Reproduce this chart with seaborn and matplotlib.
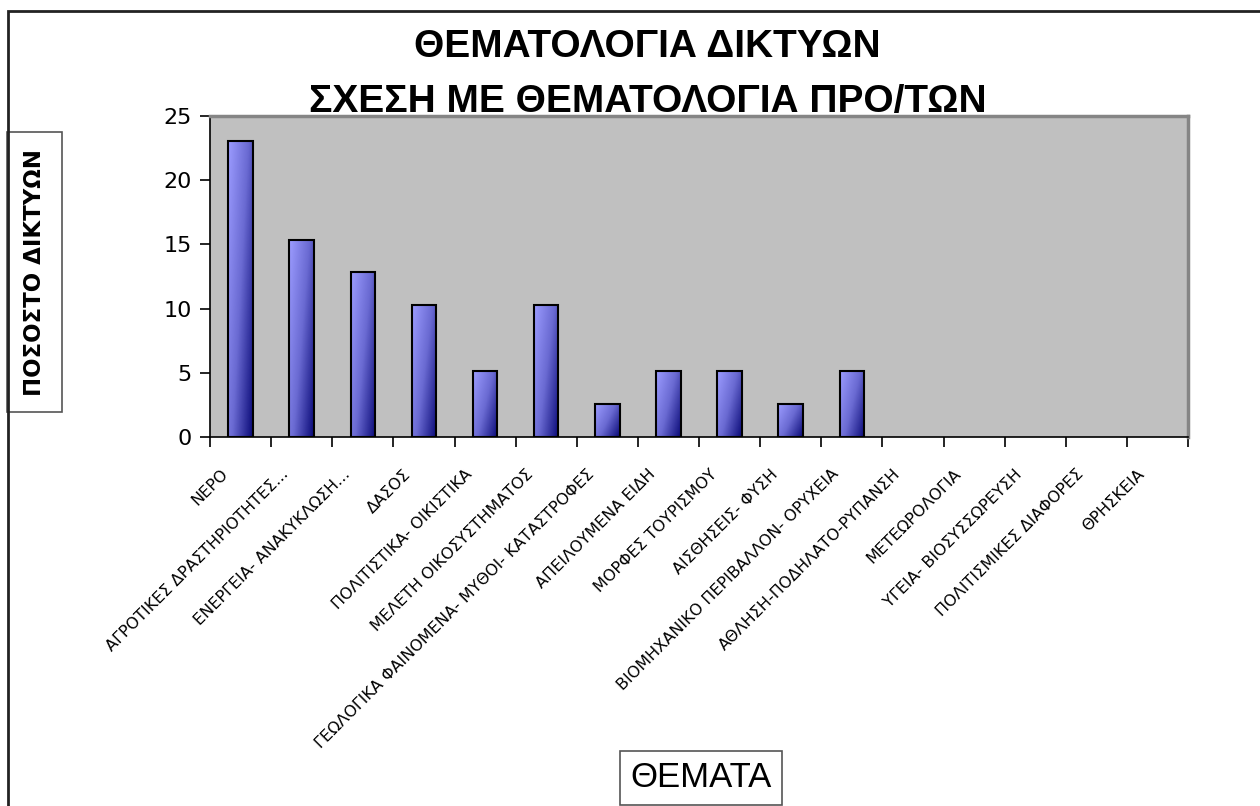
import numpy as np
import pandas as pd
import matplotlib
matplotlib.use("Agg")
import matplotlib.pyplot as plt
import matplotlib.transforms as mtransforms
from matplotlib.patches import Rectangle
from matplotlib.colors import LinearSegmentedColormap
import seaborn as sns

# data (share of networks per theme, %)
themes = [
    "ΝΕΡΟ",
    "ΑΓΡΟΤΙΚΕΣ ΔΡΑΣΤΗΡΙΟΤΗΤΕΣ...",
    "ΕΝΕΡΓΕΙΑ- ΑΝΑΚΥΚΛΩΣΗ...",
    "ΔΑΣΟΣ",
    "ΠΟΛΙΤΙΣΤΙΚΑ- ΟΙΚΙΣΤΙΚΑ",
    "ΜΕΛΕΤΗ ΟΙΚΟΣΥΣΤΗΜΑΤΟΣ",
    "ΓΕΩΛΟΓΙΚΑ ΦΑΙΝΟΜΕΝΑ- ΜΥΘΟΙ- ΚΑΤΑΣΤΡΟΦΕΣ",
    "ΑΠΕΙΛΟΥΜΕΝΑ ΕΙΔΗ",
    "ΜΟΡΦΕΣ ΤΟΥΡΙΣΜΟΥ",
    "ΑΙΣΘΗΣΕΙΣ- ΦΥΣΗ",
    "ΒΙΟΜΗΧΑΝΙΚΟ ΠΕΡΙΒΑΛΛΟΝ- ΟΡΥΧΕΙΑ",
    "ΑΘΛΗΣΗ-ΠΟΔΗΛΑΤΟ-ΡΥΠΑΝΣΗ",
    "ΜΕΤΕΩΡΟΛΟΓΙΑ",
    "ΥΓΕΙΑ- ΒΙΟΣΥΣΣΩΡΕΥΣΗ",
    "ΠΟΛΙΤΙΣΜΙΚΕΣ ΔΙΑΦΟΡΕΣ",
    "ΘΡΗΣΚΕΙΑ",
]
percent = [23.08, 15.38, 12.82, 10.26, 5.13, 10.26, 2.56, 5.13,
           5.13, 2.56, 5.13, 0, 0, 0, 0, 0]
y_ticks = [0, 5, 10, 15, 20, 25]

title_1 = "ΘΕΜΑΤΟΛΟΓΙΑ ΔΙΚΤΥΩΝ"
title_2 = "ΣΧΕΣΗ ΜΕ ΘΕΜΑΤΟΛΟΓΙΑ ΠΡΟ/ΤΩΝ"

df = pd.DataFrame({"theme": themes, "percent": percent})

sns.set_style("ticks")
plt.rcParams["font.family"] = ["DejaVu Sans"]
plt.rcParams["text.color"] = "black"
plt.rcParams["axes.labelcolor"] = "black"
plt.rcParams["xtick.color"] = "black"
plt.rcParams["ytick.color"] = "black"

fig = plt.figure(figsize=(12.6, 8.06), dpi=100)
ax = fig.add_axes([210 / 1260, 1 - 437 / 806, 978 / 1260, 321 / 806])
ax.set_facecolor("#C0C0C0")

sns.barplot(data=df, x="theme", y="percent", order=themes, width=0.4,
            color="#9999FF", edgecolor="black", linewidth=1.5, ax=ax)

# gradient fill inside each bar (light top-left -> navy bottom-right)
cmap = LinearSegmentedColormap.from_list("bar", ["#9C9CFF", "#6A6AD2", "#0A0A78"])
gx, gy = np.meshgrid(np.linspace(0, 1, 40), np.linspace(0, 1, 200))
grad = 0.6 * gx + 0.4 * gy  # row 0 is the top of the bar
for bar in ax.patches:
    h = bar.get_height()
    if h <= 0:
        bar.set_linewidth(0)
        continue
    x0 = bar.get_x()
    w = bar.get_width()
    img = ax.imshow(grad, cmap=cmap, vmin=0, vmax=1, origin="upper",
                    extent=(x0, x0 + w, 0, h), aspect="auto", zorder=2,
                    interpolation="bilinear")
    img.set_clip_path(bar)
    bar.set_facecolor("none")
    bar.set_zorder(3)

ax.set_xlim(-0.5, len(themes) - 0.5)
ax.set_ylim(0, 25)
ax.set_yticks(y_ticks)
ax.tick_params(axis="y", labelsize=16, length=7, width=1.2, pad=6, direction="out")

ax.set_xticks(range(len(themes)))
ax.set_xticks(np.arange(-0.5, len(themes), 1), minor=True)
ax.tick_params(axis="x", which="major", length=0, pad=25)
ax.tick_params(axis="x", which="minor", length=7, width=1.2, direction="out")
ax.set_xticklabels(themes, fontsize=11.5)
shift = mtransforms.ScaledTranslation(-11 / 72, 0, fig.dpi_scale_trans)
for lab in ax.get_xticklabels():
    lab.set_rotation(45)
    lab.set_ha("right")
    lab.set_va("center")
    lab.set_rotation_mode("anchor")
    lab.set_transform(lab.get_transform() + shift)

for side in ["left", "bottom"]:
    ax.spines[side].set_color("black")
    ax.spines[side].set_linewidth(1.2)
for side in ["top", "right"]:
    ax.spines[side].set_visible(True)
    ax.spines[side].set_color("#858585")
    ax.spines[side].set_linewidth(2.5)

ax.set_xlabel("ΘΕΜΑΤΑ", fontsize=25, fontfamily="Liberation Sans",
              bbox=dict(boxstyle="square,pad=0.3", fc="white", ec="#555555", lw=1.2))
ax.xaxis.set_label_coords(0.502, -1.062)
ax.xaxis.label.set_va("center")

ax.set_ylabel("ΠΟΣΟΣΤΟ ΔΙΚΤΥΩΝ", fontsize=16.5, fontweight="bold",
              bbox=dict(boxstyle="square,pad=0.7", fc="white", ec="#555555", lw=1.2))
ax.yaxis.set_label_coords(-0.179, 0.514)
ax.yaxis.label.set_va("center")

fig.text(0.514, 1 - 47 / 806, title_1, ha="center", va="center",
         fontsize=28, fontweight="bold", fontfamily="Liberation Sans")
fig.text(0.514, 1 - 102 / 806, title_2, ha="center", va="center",
         fontsize=28, fontweight="bold", fontfamily="Liberation Sans")

# outer chart frame
fig.patches.append(Rectangle((8 / 1260, -0.05), 1.1, 1 - 11 / 806 + 0.05,
                             transform=fig.transFigure, fill=False,
                             lw=2, ec="#222222", zorder=0))

fig.savefig("out.png", dpi=100)
